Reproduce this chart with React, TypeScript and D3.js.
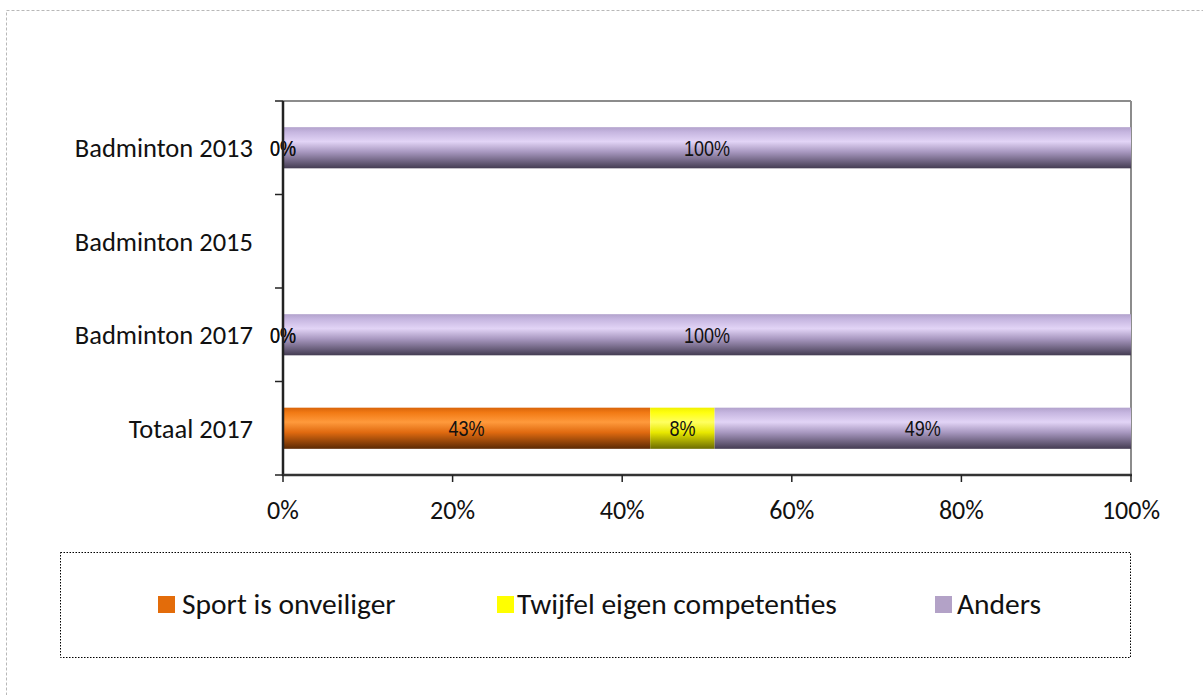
import React from "react";
import * as d3 from "d3";

const categories = ["Badminton 2013", "Badminton 2015", "Badminton 2017", "Totaal 2017"];
const seriesNames = ["Sport is onveiliger", "Twijfel eigen competenties", "Anders"];
const sportValues: (number | null)[] = [0, null, 0, 43.3];
const twijfelValues: (number | null)[] = [0, null, 0, 7.6];
const andersValues: (number | null)[] = [100, null, 100, 49.1];
const xTicks = [0, 20, 40, 60, 80, 100];

const W = 1203;
const H = 695;
const plot = { left: 283, right: 1131, top: 101, bottom: 475 };

const gradients = [
  { id: "gOrange", stops: [["0%", "#d8640a"], ["12%", "#f27a14"], ["35%", "#ff9a3c"], ["60%", "#e06a10"], ["100%", "#5c2a04"]] },
  { id: "gYellow", stops: [["0%", "#f0f000"], ["12%", "#ffff10"], ["35%", "#ffff60"], ["60%", "#e8e800"], ["100%", "#6c6c00"]] },
  { id: "gPurple", stops: [["0%", "#b2a2cc"], ["12%", "#c6b6e0"], ["35%", "#e2d4f6"], ["60%", "#a898c0"], ["100%", "#443c52"]] },
];
const legendColors = ["#e36c0a", "#ffff00", "#b3a2c7"];
const labelFont = "'Liberation Sans Narrow', 'Arial Narrow', 'Liberation Sans', sans-serif";
const textFont = "Carlito, Calibri, 'Noto Sans', 'Open Sans', sans-serif";

export default function App() {
  const x = d3.scaleLinear().domain([0, 100]).range([plot.left, plot.right]);
  const y = d3.scaleBand().domain(categories).range([plot.top, plot.bottom]).paddingInner(0.56).paddingOuter(0.28);
  const bandStep = (plot.bottom - plot.top) / categories.length;

  const series = [sportValues, twijfelValues, andersValues];
  const rows = categories.map((c, i) => {
    let acc = 0;
    const segs: { s: number; x0: number; x1: number; v: number }[] = [];
    series.forEach((vals, s) => {
      const v = vals[i];
      if (v === null || v === undefined) return;
      segs.push({ s, x0: acc, x1: acc + v, v });
      acc += v;
    });
    return { c, segs };
  });

  const legendItems = [
    { x: 158, textX: 182 },
    { x: 497, textX: 517 },
    { x: 935, textX: 957 },
  ];

  return (
    <svg width={W} height={H} style={{ position: "absolute", left: 0, top: 0, background: "#fff" }}>
      <defs>
        {gradients.map((g) => (
          <linearGradient key={g.id} id={g.id} x1="0" y1="0" x2="0" y2="1">
            {g.stops.map(([o, c]) => (
              <stop key={o} offset={o} stopColor={c} />
            ))}
          </linearGradient>
        ))}
      </defs>
      <rect x={6.5} y={10.5} width={1210} height={700} fill="none" stroke="#b8b8b8" strokeDasharray="3,2" />

      {/* plot frame */}
      <line x1={plot.left} x2={plot.right} y1={plot.top} y2={plot.top} stroke="#8c8c8c" strokeWidth={2} />
      <line x1={plot.right} x2={plot.right} y1={plot.top} y2={plot.bottom} stroke="#8c8c8c" strokeWidth={2} />

      {/* bars */}
      {rows.map((r) =>
        r.segs.map((sg) => {
          const x0 = x(sg.x0);
          const x1 = x(sg.x1);
          return (
            <rect
              key={r.c + sg.s}
              x={x0}
              y={y(r.c)!}
              width={Math.max(0, x1 - x0)}
              height={y.bandwidth()}
              fill={`url(#${gradients[sg.s].id})`}
            />
          );
        })
      )}
      {rows.map((r) =>
        r.segs.map((sg) => (
          <g
            key={"t" + r.c + sg.s}
            transform={`translate(${(x(sg.x0) + x(sg.x1)) / 2},${y(r.c)! + y.bandwidth() / 2}) scale(0.82,1)`}
          >
            <text dy="0.36em" textAnchor="middle" fontFamily={labelFont} fontSize={22} fill="#111">
              {Math.round(sg.v) + "%"}
            </text>
          </g>
        ))
      )}

      {/* axes */}
      <line x1={plot.left} x2={plot.left} y1={plot.top} y2={plot.bottom + 1} stroke="#222" strokeWidth={2.5} />
      <line x1={plot.left - 1} x2={plot.right + 1} y1={plot.bottom} y2={plot.bottom} stroke="#333" strokeWidth={2.5} />
      {d3.range(categories.length + 1).map((i) => {
        const yy = plot.top + i * bandStep;
        return <line key={"yt" + i} x1={plot.left - 8} x2={plot.left} y1={yy} y2={yy} stroke="#222" strokeWidth={1.5} />;
      })}
      {xTicks.map((t) => (
        <g key={"xt" + t}>
          <line x1={x(t)} x2={x(t)} y1={plot.bottom} y2={plot.bottom + 7} stroke="#222" strokeWidth={1.5} />
          <text x={x(t)} y={519} textAnchor="middle" fontFamily={textFont} fontSize={26} fill="#111">
            {t + "%"}
          </text>
        </g>
      ))}
      {categories.map((c, i) => (
        <text
          key={"c" + c}
          x={253}
          y={plot.top + (i + 0.5) * bandStep}
          dy="0.35em"
          textAnchor="end"
          fontFamily={textFont}
          fontSize={26.5}
          fill="#111"
        >
          {c}
        </text>
      ))}

      {/* legend */}
      <rect x={60.5} y={552.5} width={1070} height={105} fill="none" stroke="#000" strokeDasharray="1.5,1.5" />
      {seriesNames.map((n, i) => (
        <g key={n}>
          <rect x={legendItems[i].x} y={596} width={17} height={17} fill={legendColors[i]} />
          <text x={legendItems[i].textX} y={604} dy="0.35em" fontFamily={textFont} fontSize={29.5} fill="#111">
            {n}
          </text>
        </g>
      ))}
    </svg>
  );
}
